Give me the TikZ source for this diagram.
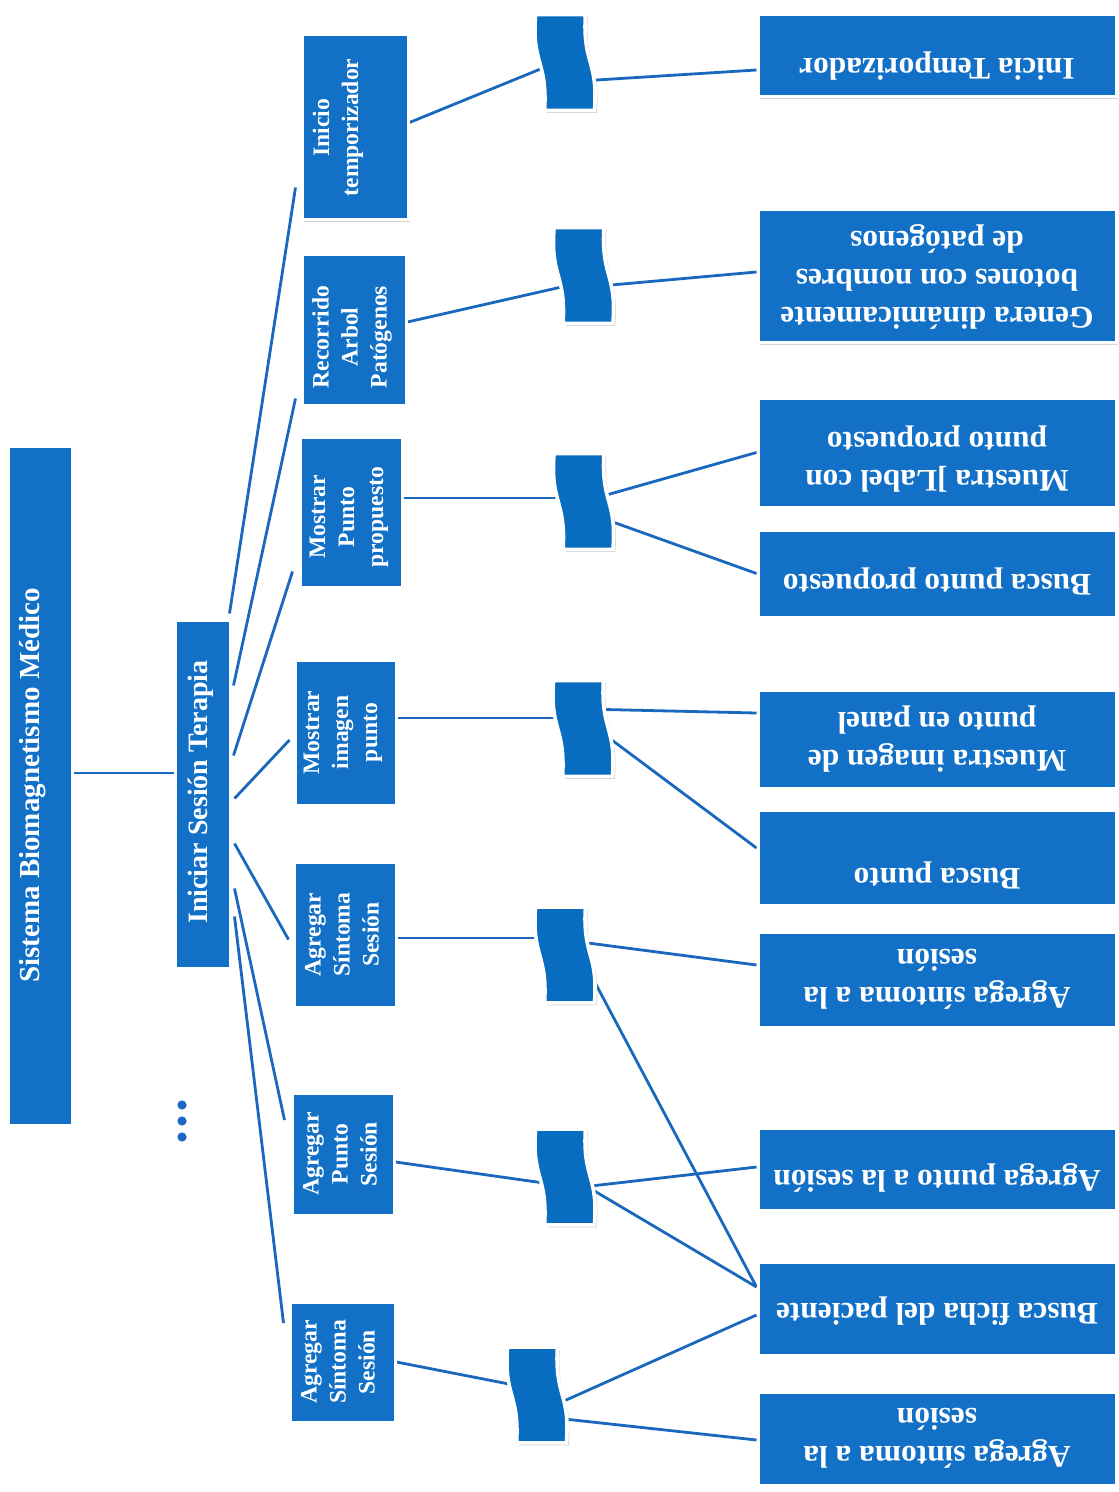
\documentclass[tikz,border=0pt]{standalone}
\usepackage{fontspec}
\setmainfont{Liberation Serif}
\usetikzlibrary{calc,shadows}
\definecolor{boxblue}{RGB}{18,112,198}
\definecolor{waveblue}{RGB}{8,108,192}
\definecolor{lineblue}{RGB}{26,104,190}
\pgfdeclarelayer{bg}
\pgfsetlayers{bg,main}
\tikzset{
 shd/.style={drop shadow={shadow xshift=1.2pt,shadow yshift=-1.2pt,opacity=0.3,fill=black!55}},
 box/.style={shape=rectangle, fill=boxblue, draw=white, line width=1.5pt, inner sep=0pt, shd},
 sz/.style 2 args={minimum width=#1, minimum height=#2},
 wavenode/.style={shape=rectangle, inner sep=0pt, minimum width=29pt, minimum height=47.5pt},
 wavesh/.style={fill=waveblue, draw=white, line width=1.8pt, shd},
 conn/.style={draw=lineblue, line width=1.4pt},
 ltext/.style={rotate=90, text=white, align=center, inner sep=0pt, font=\bfseries\fontsize{11.8}{14.5}\selectfont},
 rtext/.style={rotate=180, text=white, align=center, inner sep=0pt, font=\bfseries\fontsize{15.7}{19}\selectfont},
 btext/.style={rotate=90, text=white, inner sep=0pt},
}
\newcommand\drawwave[1]{%
 \path[wavesh] (#1.north west) -- ($(#1.north east)+(-9,0)$)
   .. controls ($(#1.north east)+(-12,50)$) and ($(#1.south east)+(4,-50)$) .. (#1.south east)
   -- ($(#1.south west)+(9,0)$)
   .. controls ($(#1.south west)+(12,-50)$) and ($(#1.north west)+(-4,50)$) .. (#1.north west) -- cycle;}
\begin{document}
\begin{tikzpicture}[x=0.5pt,y=-0.5pt]
\begin{pgfonlayer}{bg}
\fill[white] (0,0) rectangle (1118,1492);
\end{pgfonlayer}
\useasboundingbox (0,0) rectangle (1118,1492);

% root and first level
\node[box, sz={32pt}{339.5pt}] (root) at (40,785.5) {};
\node[btext, font=\bfseries\fontsize{14.5}{17}\selectfont] (roott) at ($(root)+(-7,0)$) {Sistema Biomagnetismo Médico};
\node[box, sz={27.5pt}{174pt}] (isn) at (202.5,794) {};
\node[btext, font=\bfseries\fontsize{14}{17}\selectfont] (isnt) at ($(isn)+(-2,-2)$) {Iniciar Sesión Terapia};

% second level
\node[box, sz={53pt}{92.5pt}] (b1) at (355,127.5) {};
\node[box, sz={52pt}{75pt}] (b2) at (354,330) {};
\node[box, sz={51pt}{75pt}] (b3) at (351,512) {};
\node[box, sz={50.5pt}{72.5pt}] (b4) at (345.5,732.5) {};
\node[box, sz={51pt}{72.5pt}] (b5) at (345,934.5) {};
\node[box, sz={51pt}{61pt}] (b6) at (343,1154) {};
\node[box, sz={52.5pt}{60pt}] (b7) at (342.5,1362) {};
\node[ltext] (b1t) at ($(b1)+(-17,0)$) {Inicio\\temporizador};
\node[ltext] (b2t) at ($(b2)+(-2,7)$) {Recorrido\\Arbol\\Patógenos};
\node[ltext] (b3t) at ($(b3)+(-2,5)$) {Mostrar\\Punto\\propuesto};
\node[ltext] (b4t) at ($(b4)+(-2.5,0)$) {Mostrar\\imagen\\punto};
\node[ltext] (b5t) at ($(b5)+(-3,0)$) {Agregar\\Síntoma\\Sesión};
\node[ltext] (b6t) at ($(b6)+(-3,0)$) {Agregar\\Punto\\Sesión};
\node[ltext] (b7t) at ($(b7)+(-4.5,0)$) {Agregar\\Síntoma\\Sesión};

% waves
\node[wavenode] (w1) at (565,62.5) {};
\node[wavenode] (w2) at (583.5,275.5) {};
\node[wavenode] (w3) at (583.5,501.5) {};
\node[wavenode] (w4) at (583,728.5) {};
\node[wavenode] (w5) at (565,955) {};
\node[wavenode] (w6) at (565,1177) {};
\node[wavenode] (w7) at (537,1395) {};

% right boxes
\node[box, sz={179pt}{41pt}] (R1) at (937,56) {};
\node[box, sz={179pt}{66.5pt}] (R2) at (937,276.5) {};
\node[box, sz={179pt}{54.5pt}] (R3) at (937,452.5) {};
\node[box, sz={179pt}{43.5pt}] (R4) at (937,573.5) {};
\node[box, sz={179pt}{49pt}] (R5) at (937,739) {};
\node[box, sz={179pt}{47.5pt}] (R6) at (937,857.5) {};
\node[box, sz={179pt}{47.5pt}] (R7) at (937,979.5) {};
\node[box, sz={179pt}{41pt}] (R8) at (937,1169) {};
\node[box, sz={179pt}{46.5pt}] (R9) at (937,1308.5) {};
\node[box, sz={179pt}{46.5pt}] (R10) at (937,1438.5) {};
\node[rtext] (R1t) at ($(R1)+(0,10)$) {Inicia Temporizador};
\node[rtext] (R2t) at (R2) {Genera dinámicamente\\botones con nombres\\de patógenos};
\node[rtext] (R3t) at ($(R3)+(0,7)$) {Muestra ]Label con\\punto propuesto};
\node[rtext] (R4t) at ($(R4)+(0,8)$) {Busca punto propuesto};
\node[rtext] (R5t) at (R5) {Muestra imagen de\\punto en panel};
\node[rtext] (R6t) at ($(R6)+(0,18)$) {Busca punto};
\node[rtext] (R7t) at (R7) {Agrega síntoma a la\\sesión};
\node[rtext] (R8t) at ($(R8)+(0,9)$) {Agrega punto a la sesión};
\node[rtext] (R9t) at ($(R9)+(0,3)$) {Busca ficha del paciente};
\node[rtext] (R10t) at (R10) {Agrega síntoma a la\\sesión};

% connectors (behind everything)
\begin{pgfonlayer}{bg}
\draw[conn] ($(root.east)+(0,-12.5)$) -- ($(isn.west)+(0,-21)$);
\draw[conn] ($(isn.north east)+(-2,-5)$) -- ($(b1.west)+(-5,60)$);
\draw[conn] ($(isn.north east)+(2,67)$) -- ($(b2.south west)+(-5,-8)$);
\draw[conn] ($(isn.north east)+(2,137)$) -- ($(b3.south west)+(-6,-17)$);
\draw[conn] ($(isn.north east)+(3,180)$) -- ($(b4.west)+(-4,7.5)$);
\draw[conn] ($(isn.north east)+(3,225)$) -- ($(b5.west)+(-4,5)$);
\draw[conn] ($(isn.north east)+(3,270)$) -- ($(b6.west)+(-6,-34)$);
\draw[conn] ($(isn.north east)+(3,298)$) -- ($(b7.west)+(-5,-39)$);

\draw[conn] ($(b1.east)+(0,-5)$) -- ($(w1.center)+(0,-3.5)$);
\draw[conn] ($(b2.east)+(0,-8)$) -- ($(w2.center)+(0,6.5)$);
\draw[conn] ($(b3.east)+(0,-14)$) -- ($(w3.center)+(0,-3.5)$);
\draw[conn] ($(b4.east)+(0,-14.5)$) -- ($(w4.center)+(0,-10.5)$);
\draw[conn] ($(b5.east)+(0,3.5)$) -- ($(w5.center)+(0,-17)$);
\draw[conn] ($(b6.east)+(0,8)$) -- ($(w6.center)+(0,9)$);
\draw[conn] ($(b7.east)+(0,0)$) -- ($(w7.center)+(0,-5.5)$);

\draw[conn] ($(w1.center)+(0,19.5)$) -- ($(R1.west)+(0,14)$);
\draw[conn] ($(w2.center)+(0,12)$) -- ($(R2.west)+(0,-4.5)$);
\draw[conn] (w3.center) -- (R3.west);
\draw[conn] ($(w3.center)+(0,10)$) -- (R4.west);
\draw[conn] ($(w4.center)+(0,-19.5)$) -- ($(R5.west)+(0,-26)$);
\draw[conn] ($(w4.center)+(0,-10)$) -- ($(R6.west)+(0,-9.5)$);
\draw[conn] ($(w5.center)+(0,-15)$) -- ($(R7.west)+(0,-14.5)$);
\draw[conn] ($(w5.center)+(0,-29)$) -- ($(R9.west)+(0,-21.5)$);
\draw[conn] ($(w6.center)+(0,12)$) -- ($(R8.west)+(0,-2)$);
\draw[conn] ($(w6.center)+(0,-3.5)$) -- ($(R9.west)+(0,-21.5)$);
\draw[conn] ($(w7.center)+(0,18)$) -- ($(R9.west)+(0,6.5)$);
\draw[conn] ($(w7.center)+(0,21)$) -- ($(R10.west)+(0,1.5)$);
\end{pgfonlayer}

% wave shapes on top of connectors
\drawwave{w1}
\drawwave{w2}
\drawwave{w3}
\drawwave{w4}
\drawwave{w5}
\drawwave{w6}
\drawwave{w7}

% ellipsis dots
\fill[lineblue] (182,1105) circle (2.3pt) (182,1121) circle (2.3pt) (182,1137) circle (2.3pt);
\end{tikzpicture}
\end{document}
